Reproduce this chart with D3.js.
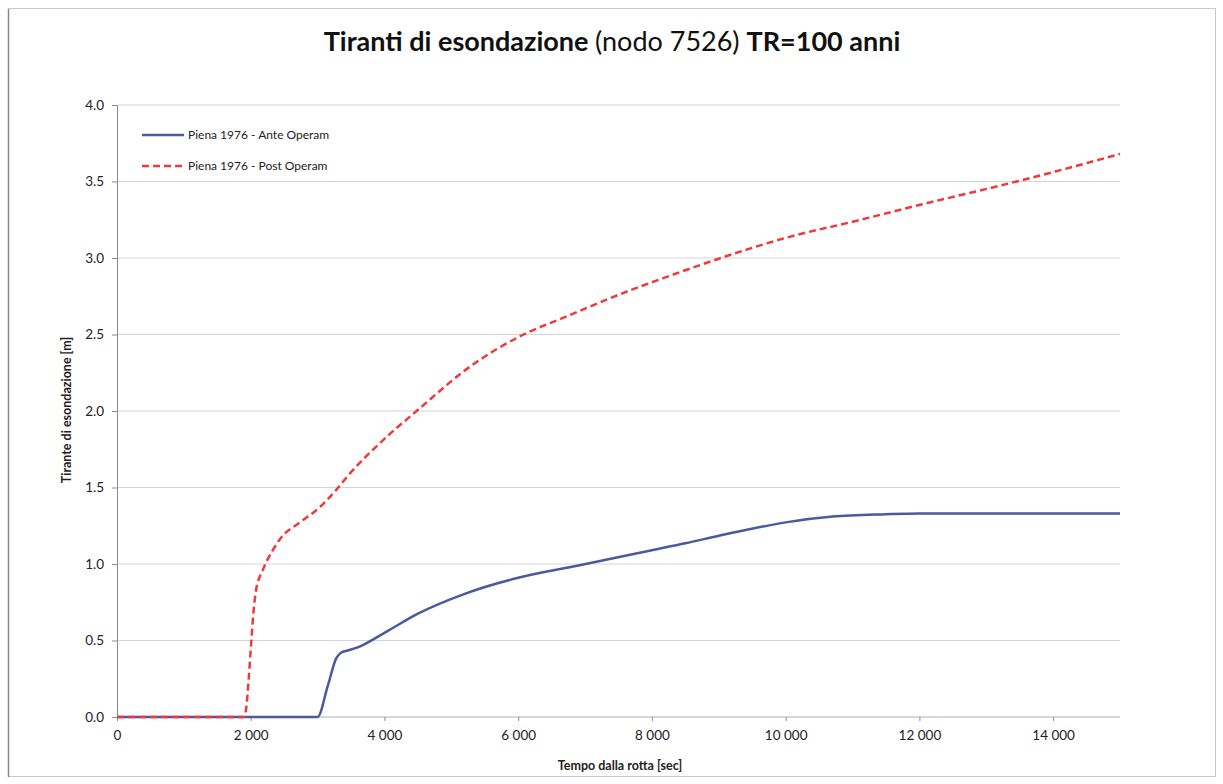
<!DOCTYPE html>
<html>
<head>
<meta charset="utf-8">
<script src="https://cdn.jsdelivr.net/npm/d3@7"></script>
<style>
  body { margin: 0; background: #fff; }
  svg { display: block; font-family: Lato, "Open Sans", sans-serif; }
</style>
</head>
<body>
<script>
// Series data (time in seconds, depth in metres)
const anteTime = [0, 2900, 3000, 3150, 3280, 3350, 3450, 3600, 4000, 4500, 5200, 6000, 6900, 8000, 8500, 9000, 9600, 10000, 10700, 11500, 12000, 13000, 14000, 15000];
const anteDepth = [0, 0, 0, 0.2, 0.385, 0.42, 0.435, 0.455, 0.55, 0.675, 0.805, 0.91, 0.99, 1.09, 1.135, 1.185, 1.24, 1.272, 1.31, 1.325, 1.33, 1.33, 1.33, 1.33];

const postTime = [0, 1900, 1930, 1970, 2000, 2040, 2080, 2180, 2330, 2450, 2730, 3030, 3250, 3500, 3980, 4480, 5280, 6080, 6680, 7680, 8180, 9030, 10030, 11030, 12030, 13180, 14030, 15000];
const postDepth = [0, 0, 0.05, 0.25, 0.44, 0.68, 0.83, 0.96, 1.09, 1.17, 1.27, 1.37, 1.47, 1.6, 1.81, 2.0, 2.29, 2.5, 2.61, 2.79, 2.87, 3.0, 3.135, 3.24, 3.35, 3.47, 3.565, 3.68];

const seriesNames = ["Piena 1976 - Ante Operam", "Piena 1976 - Post Operam"];
const xTicks = [0, 2000, 4000, 6000, 8000, 10000, 12000, 14000];
const yTicks = [0, 0.5, 1.0, 1.5, 2.0, 2.5, 3.0, 3.5, 4.0];

const W = 1223, H = 784;
const margin = { top: 105, right: 103, bottom: 67, left: 117 };
const width = W - margin.left - margin.right;
const height = H - margin.top - margin.bottom;

const root = d3.select("body").append("svg")
  .attr("width", W)
  .attr("height", H);

// outer frame
root.append("rect")
  .attr("x", 8.5).attr("y", 8.5)
  .attr("width", 1207).attr("height", 768)
  .attr("fill", "#fff")
  .attr("stroke", "#c8c8c8");
root.append("line")
  .attr("x1", 8.5).attr("x2", 8.5).attr("y1", 9).attr("y2", 777)
  .attr("stroke", "#888").attr("stroke-width", 1.5);

// title
const title = root.append("text")
  .attr("x", 612).attr("y", 51)
  .attr("text-anchor", "middle")
  .attr("font-size", 27)
  .attr("fill", "#111");
title.append("tspan").attr("font-weight", "bold").text("Tiranti di esondazione ");
title.append("tspan").text("(nodo 7526) ");
title.append("tspan").attr("font-weight", "bold").text("TR=100 anni");

const svg = root.append("g")
  .attr("transform", `translate(${margin.left},${margin.top})`);

const x = d3.scaleLinear().domain([0, 15000]).range([0, width]);
const y = d3.scaleLinear().domain([0, 4]).range([height, 0]);

// gridlines
svg.append("g")
  .selectAll("line")
  .data(yTicks.filter(d => d > 0))
  .enter().append("line")
  .attr("x1", 0).attr("x2", width)
  .attr("y1", d => y(d)).attr("y2", d => y(d))
  .attr("stroke", "#d4d4d4")
  .attr("stroke-width", 1);

// Y axis
const yAxis = svg.append("g")
  .call(d3.axisLeft(y).tickValues(yTicks).tickFormat(d3.format(".1f")).tickSize(5).tickPadding(8));
yAxis.select(".domain").attr("stroke", "#8c8c8c");
yAxis.selectAll(".tick line").attr("stroke", "#8c8c8c");
yAxis.selectAll(".tick text")
  .attr("font-family", "Lato, sans-serif")
  .attr("font-size", 13.5)
  .attr("fill", "#222");

// X axis (space as thousands separator)
const xAxis = svg.append("g")
  .attr("transform", `translate(0,${height})`)
  .call(d3.axisBottom(x).tickValues(xTicks).tickFormat(d => d3.format(",")(d).replace(/,/g, " ")).tickSize(4).tickPadding(9));
xAxis.select(".domain").attr("stroke", "#b0b0b0").attr("d", `M0,0H${width}`);
xAxis.selectAll(".tick line").attr("stroke", "#8c8c8c");
xAxis.selectAll(".tick text")
  .attr("font-family", "Lato, sans-serif")
  .attr("font-size", 13.5)
  .attr("fill", "#222");

// axis titles
root.append("text")
  .attr("transform", "translate(71,410) rotate(-90)")
  .attr("text-anchor", "middle")
  .attr("font-size", 12.5)
  .attr("font-weight", "bold")
  .attr("fill", "#222")
  .text("Tirante di esondazione [m]");

root.append("text")
  .attr("x", 620).attr("y", 770)
  .attr("text-anchor", "middle")
  .attr("font-size", 12.5)
  .attr("font-weight", "bold")
  .attr("fill", "#222")
  .text("Tempo dalla rotta [sec]");

// lines
const line = d3.line()
  .x(d => x(d[0]))
  .y(d => y(d[1]))
  .curve(d3.curveMonotoneX);

const ante = anteTime.map((t, i) => [t, anteDepth[i]]);
const post = postTime.map((t, i) => [t, postDepth[i]]);

const blue = "#4a5a9e";
const red = "#ee3a3a";

svg.append("path")
  .datum(ante)
  .attr("fill", "none")
  .attr("stroke", blue)
  .attr("stroke-width", 2.5)
  .attr("d", line);

svg.append("path")
  .datum(post)
  .attr("fill", "none")
  .attr("stroke", red)
  .attr("stroke-width", 2.5)
  .attr("stroke-dasharray", "7,4")
  .attr("d", line);

// legend
const legend = root.append("g");
const legendItems = [
  { name: seriesNames[0], color: blue, dash: null, y: 135 },
  { name: seriesNames[1], color: red, dash: "7,4", y: 166 }
];
legendItems.forEach(d => {
  legend.append("line")
    .attr("x1", 142).attr("x2", 184)
    .attr("y1", d.y).attr("y2", d.y)
    .attr("stroke", d.color)
    .attr("stroke-width", 2.5)
    .attr("stroke-dasharray", d.dash);
  legend.append("text")
    .attr("x", 188).attr("y", d.y + 4)
    .attr("font-size", 12)
    .attr("fill", "#222")
    .text(d.name);
});
</script>
</body>
</html>
